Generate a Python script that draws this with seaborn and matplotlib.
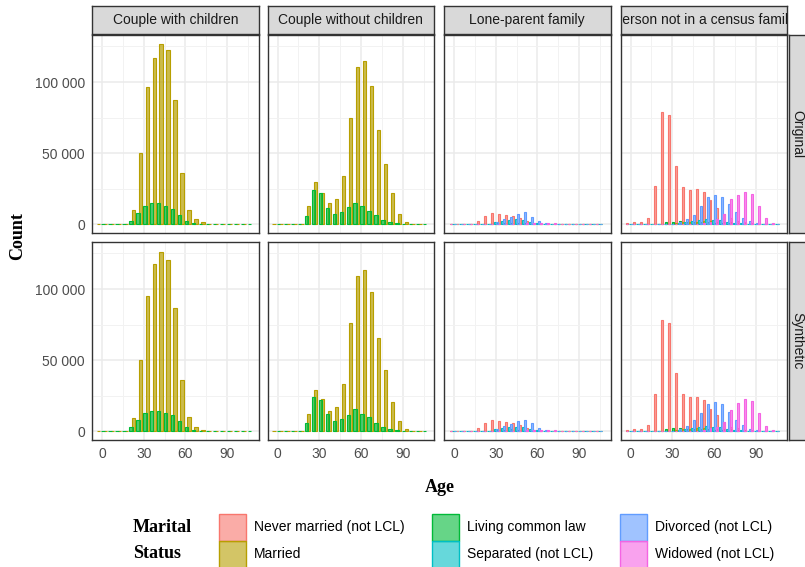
import numpy as np
import pandas as pd
import matplotlib
matplotlib.use("Agg")
import matplotlib.pyplot as plt
import matplotlib.ticker as mticker
from matplotlib.patches import Rectangle
from matplotlib.colors import to_rgba
import seaborn as sns

# ---- data ----
age_groups = list(range(0, 110, 5))
statuses = ["Never married (not LCL)", "Married", "Living common law",
            "Separated (not LCL)", "Divorced (not LCL)", "Widowed (not LCL)"]
families = ["Couple with children", "Couple without children",
            "Lone-parent family", "Person not in a census family"]
sources = ["Original", "Synthetic"]
palette = ["#F8766D", "#B79F00", "#00BA38", "#00BFC4", "#619CFF", "#F564E3"]

# Couple with children
cwc_married_orig = [0, 0, 0, 0, 500, 10100, 50000, 96200, 116900, 127000, 122300,
                    87500, 35900, 10100, 3500, 1400, 300, 0, 0, 0, 0, 0]
cwc_cl_orig = [0, 0, 0, 300, 2300, 8200, 13100, 15300, 14800, 13100, 11000,
               6600, 2300, 1200, 400, 100, 0, 0, 0, 0, 0, 0]
cwc_married_syn = [0, 0, 0, 0, 600, 9300, 50500, 95400, 117500, 126000, 120700,
                   86500, 36000, 9800, 3300, 900, 300, 0, 0, 0, 0, 0]
cwc_cl_syn = [0, 0, 0, 300, 2800, 8100, 12800, 14700, 14200, 12800, 11400,
              7200, 3000, 1200, 400, 100, 0, 0, 0, 0, 0, 0]

# Couple without children
cwoc_married_orig = [0, 0, 0, 0, 500, 13100, 30000, 21800, 14800, 17600, 34300,
                     74600, 110300, 114500, 97400, 66400, 42200, 21800, 7000, 1400, 300, 0]
cwoc_cl_orig = [0, 0, 0, 300, 5600, 24100, 22400, 11800, 7600, 8800, 12000,
                15200, 13000, 9700, 6400, 3000, 1700, 1000, 300, 100, 0, 0]
cwoc_married_syn = [0, 0, 0, 0, 600, 12500, 29000, 22500, 14500, 17000, 33500,
                    76000, 109000, 113500, 98000, 65500, 43000, 21000, 7300, 1500, 300, 0]
cwoc_cl_syn = [0, 0, 0, 400, 6000, 24500, 22000, 12200, 7300, 9000, 11800,
               15500, 12600, 9900, 6200, 3100, 1600, 900, 300, 100, 0, 0]

# Lone-parent family
lp_nm_orig = [0, 0, 0, 300, 2500, 6200, 7700, 7500, 6600, 5900, 4200,
              2300, 1200, 500, 200, 0, 0, 0, 0, 0, 0, 0]
lp_married_orig = [0, 0, 0, 0, 0, 0, 200, 400, 600, 600, 500,
                   300, 100, 0, 0, 0, 0, 0, 0, 0, 0, 0]
lp_cl_orig = [0, 0, 0, 0, 0, 500, 1000, 1300, 1300, 1000, 700,
              300, 100, 0, 0, 0, 0, 0, 0, 0, 0, 0]
lp_sep_orig = [0, 0, 0, 0, 0, 500, 1500, 2500, 3300, 3500, 3000,
               2000, 1000, 400, 100, 0, 0, 0, 0, 0, 0, 0]
lp_div_orig = [0, 0, 0, 0, 0, 0, 1500, 3700, 5400, 7200, 8600,
               5400, 2300, 900, 300, 100, 0, 0, 0, 0, 0, 0]
lp_wid_orig = [0, 0, 0, 0, 0, 0, 0, 0, 0, 300, 600,
               1000, 1200, 1300, 1000, 700, 400, 200, 0, 0, 0, 0]
lp_nm_syn = [0, 0, 0, 300, 2300, 6000, 7900, 7300, 6800, 5700, 4300,
             2500, 1100, 500, 200, 0, 0, 0, 0, 0, 0, 0]
lp_married_syn = [0, 0, 0, 0, 0, 0, 200, 500, 600, 500, 500,
                  300, 100, 0, 0, 0, 0, 0, 0, 0, 0, 0]
lp_cl_syn = [0, 0, 0, 0, 0, 600, 1100, 1200, 1400, 1000, 600,
             300, 100, 0, 0, 0, 0, 0, 0, 0, 0, 0]
lp_sep_syn = [0, 0, 0, 0, 0, 400, 1600, 2400, 3400, 3300, 3100,
              1900, 1000, 400, 100, 0, 0, 0, 0, 0, 0, 0]
lp_div_syn = [0, 0, 0, 0, 0, 0, 1400, 3900, 5200, 7400, 8300,
              5600, 2200, 1000, 300, 100, 0, 0, 0, 0, 0, 0]
lp_wid_syn = [0, 0, 0, 0, 0, 0, 0, 0, 0, 300, 500,
              1100, 1200, 1200, 1100, 700, 400, 200, 0, 0, 0, 0]

# Person not in a census family
pnf_nm_orig = [1200, 1400, 1900, 4700, 27200, 78900, 77000, 41300, 26500, 24200, 24900,
               23000, 17100, 11300, 7000, 4200, 2600, 1600, 900, 500, 200, 100]
pnf_married_orig = [0, 0, 0, 0, 0, 0, 500, 1000, 1500, 1800, 2000,
                    2200, 2200, 2000, 1800, 1500, 1200, 800, 400, 200, 0, 0]
pnf_cl_orig = [0, 0, 0, 0, 500, 1500, 2000, 2200, 2000, 1800, 1600,
               1500, 1200, 1000, 700, 400, 200, 0, 0, 0, 0, 0]
pnf_sep_orig = [0, 0, 0, 0, 0, 0, 500, 1000, 1800, 2500, 3200,
                3500, 3300, 2800, 2000, 1300, 800, 400, 100, 0, 0, 0]
pnf_div_orig = [0, 0, 0, 0, 0, 0, 600, 1800, 3500, 6500, 12800,
                19300, 20800, 19000, 14600, 8500, 4200, 2200, 800, 300, 0, 0]
pnf_wid_orig = [0, 0, 0, 0, 0, 0, 0, 0, 0, 300, 500,
                1000, 2000, 3500, 7000, 17600, 20700, 22500, 21100, 13100, 4700, 1200]
pnf_nm_syn = [1200, 1400, 1600, 4400, 26500, 78400, 76000, 41200, 26500, 24400, 24400,
              22100, 16000, 11600, 6300, 3300, 2200, 1300, 800, 400, 200, 100]
pnf_married_syn = [0, 0, 0, 0, 0, 0, 600, 900, 1600, 1700, 2100,
                   2100, 2300, 1900, 1800, 1400, 1200, 700, 400, 200, 0, 0]
pnf_cl_syn = [0, 0, 0, 0, 600, 1400, 2100, 2100, 2000, 1900, 1500,
              1500, 1100, 1000, 600, 400, 200, 0, 0, 0, 0, 0]
pnf_sep_syn = [0, 0, 0, 0, 0, 0, 400, 1100, 1700, 2600, 3100,
               3600, 3200, 2900, 1900, 1300, 700, 400, 100, 0, 0, 0]
pnf_div_syn = [0, 0, 0, 0, 0, 0, 500, 1700, 3600, 7900, 12800,
               19000, 20900, 19000, 14000, 8000, 4300, 2000, 900, 300, 0, 0]
pnf_wid_syn = [0, 0, 0, 0, 0, 0, 0, 0, 0, 300, 500,
               1100, 2100, 3300, 6300, 14900, 20200, 22600, 21400, 12800, 4000, 700]

panels = {
    ("Original", "Couple with children"): {"Married": cwc_married_orig, "Living common law": cwc_cl_orig},
    ("Synthetic", "Couple with children"): {"Married": cwc_married_syn, "Living common law": cwc_cl_syn},
    ("Original", "Couple without children"): {"Married": cwoc_married_orig, "Living common law": cwoc_cl_orig},
    ("Synthetic", "Couple without children"): {"Married": cwoc_married_syn, "Living common law": cwoc_cl_syn},
    ("Original", "Lone-parent family"): dict(zip(statuses, [lp_nm_orig, lp_married_orig, lp_cl_orig,
                                                            lp_sep_orig, lp_div_orig, lp_wid_orig])),
    ("Synthetic", "Lone-parent family"): dict(zip(statuses, [lp_nm_syn, lp_married_syn, lp_cl_syn,
                                                             lp_sep_syn, lp_div_syn, lp_wid_syn])),
    ("Original", "Person not in a census family"): dict(zip(statuses, [pnf_nm_orig, pnf_married_orig, pnf_cl_orig,
                                                                       pnf_sep_orig, pnf_div_orig, pnf_wid_orig])),
    ("Synthetic", "Person not in a census family"): dict(zip(statuses, [pnf_nm_syn, pnf_married_syn, pnf_cl_syn,
                                                                        pnf_sep_syn, pnf_div_syn, pnf_wid_syn])),
}

# long table
rows = []
for (src, fam), d in panels.items():
    for st, vals in d.items():
        for a, v in zip(age_groups, vals):
            rows.append((src, fam, st, a, v))
df = pd.DataFrame(rows, columns=["source", "family", "status", "age", "count"])

# small dodge of each status inside its age group
offset = {statuses[0]: -2.5, statuses[1]: -2.5, statuses[2]: 0.8,
          statuses[3]: -0.5, statuses[4]: 0.8, statuses[5]: -2.5}
df["pos"] = df["age"] + df["status"].map(offset)
bar_w = {families[0]: 2.4, families[1]: 2.4, families[2]: 1.4, families[3]: 1.4}

# ---- style ----
sns.set_theme(style="white")
plt.rcParams["font.family"] = ["Liberation Sans", "DejaVu Sans"]

W, H = 805, 567
fig = plt.figure(figsize=(W / 100, H / 100), dpi=100)
fig.patch.set_facecolor("white")


def box(l, t, w, h):
    return [l / W, 1 - (t + h) / H, w / W, h / H]


lefts = [92, 267.5, 444, 620.5]
pw = 166.5
tops = [35, 242]
ph = 198
colors = dict(zip(statuses, palette))
dark = "#333333"

for r, src in enumerate(sources):
    for c, fam in enumerate(families):
        ax = fig.add_axes(box(lefts[c], tops[r], pw, ph))
        ax.set_facecolor("white")
        ax.set_axisbelow(True)
        sub = df[(df["source"] == src) & (df["family"] == fam)]
        for st in statuses:
            s = sub[sub["status"] == st]
            if s.empty:
                continue
            n0 = len(ax.patches)
            sns.barplot(data=s, x="pos", y="count", native_scale=True, orient="x",
                        width=bar_w[fam] / 5, color=colors[st], saturation=1,
                        errorbar=None, ax=ax)
            for p in ax.patches[n0:]:
                p.set_facecolor(to_rgba(colors[st], 0.7))
                p.set_edgecolor(to_rgba(colors[st], 1.0))
                p.set_linewidth(0.8)
        ax.set_xlim(-7.2, 112.5)
        ax.set_ylim(-6000, 133000)
        ax.set_xlabel("")
        ax.set_ylabel("")
        ax.xaxis.set_major_locator(mticker.FixedLocator([0, 30, 60, 90]))
        ax.xaxis.set_minor_locator(mticker.FixedLocator([15, 45, 75, 105]))
        ax.yaxis.set_major_locator(mticker.FixedLocator([0, 50000, 100000]))
        ax.yaxis.set_minor_locator(mticker.FixedLocator([25000, 75000, 125000]))
        ax.yaxis.set_major_formatter(mticker.FuncFormatter(lambda v, _: f"{int(v):,}".replace(",", " ")))
        ax.grid(which="major", color="#EBEBEB", lw=1.1)
        ax.grid(which="minor", color="#F2F2F2", lw=0.7)
        for sp in ax.spines.values():
            sp.set_color(dark)
            sp.set_linewidth(1.0)
        ax.tick_params(which="minor", length=0)
        ax.tick_params(which="major", length=2.7, width=0.8, color=dark,
                       labelsize=10, labelcolor="#4D4D4D", pad=2.5)
        if c > 0:
            ax.tick_params(axis="y", length=0, labelleft=False)
        if r == 0:
            ax.tick_params(axis="x", length=0, labelbottom=False)

        # top strips
        if r == 0:
            sax = fig.add_axes(box(lefts[c], 6, pw, 27.5))
            sax.set_facecolor("#D9D9D9")
            sax.set_xticks([])
            sax.set_yticks([])
            for sp in sax.spines.values():
                sp.set_color(dark)
                sp.set_linewidth(1.0)
            sax.text(0.5, 0.5, fam, ha="center", va="center", fontsize=10,
                     color="#1A1A1A", transform=sax.transAxes, clip_on=True)
    # right strips
    rax = fig.add_axes(box(789, tops[r], 30, ph))
    rax.set_facecolor("#D9D9D9")
    rax.set_xticks([])
    rax.set_yticks([])
    for sp in rax.spines.values():
        sp.set_color(dark)
        sp.set_linewidth(1.0)
    rax.text((797 - 789) / 30, 0.5, src, ha="center", va="center", rotation=-90,
             fontsize=10, color="#1A1A1A", transform=rax.transAxes)

serif = ["Liberation Serif", "DejaVu Serif"]
fig.text(18 / W, 1 - 236 / H, "Count", rotation=90, ha="center", va="center",
         fontsize=13, fontweight="bold", family=serif, color="black")
fig.text(440 / W, 1 - 487 / H, "Age", ha="center", va="center",
         fontsize=13, fontweight="bold", family=serif, color="black")

# legend drawn by hand, ggplot-like (title on the left, 3 columns)
fig.text(133 / W, 1 - 527 / H, "Marital", ha="left", va="center",
         fontsize=13, fontweight="bold", family=serif, color="black")
fig.text(133 / W, 1 - 553 / H, "Status", ha="left", va="center",
         fontsize=13, fontweight="bold", family=serif, color="black")
key_x = [219, 432, 620]
key_top = [513.5, 540.5]
ks = 27
for k, st in enumerate(statuses):
    cx, rw = k // 2, k % 2
    x0, y0 = key_x[cx], key_top[rw]
    fig.add_artist(Rectangle((x0 / W, 1 - (y0 + ks) / H), ks / W, ks / H,
                             transform=fig.transFigure, facecolor=to_rgba(colors[st], 0.6),
                             edgecolor=colors[st], lw=1.0))
    fig.text((x0 + ks + 8) / W, 1 - (y0 + ks / 2) / H, st, ha="left", va="center",
             fontsize=10, color="black")

fig.savefig("out.png", dpi=100, facecolor="white")
